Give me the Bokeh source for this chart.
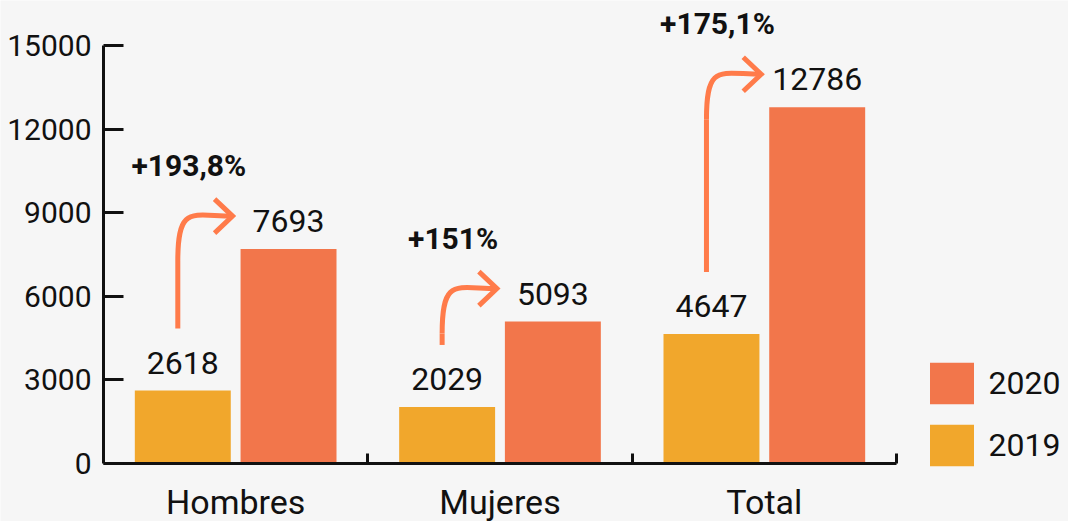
from bokeh.plotting import figure
from bokeh.models import (ColumnDataSource, LabelSet, Range1d, FixedTicker, Legend, LegendItem,
                          LinearAxis)
from bokeh.core.properties import value
from bokeh.embed import file_html
from bokeh.resources import INLINE

# ---- data ----
categories = ["Hombres", "Mujeres", "Total"]
v2019 = [2618, 2029, 4647]
v2020 = [7693, 5093, 12786]
pct_labels = ["+193,8%", "+151%", "+175,1%"]
y_ticks = [0, 3000, 6000, 9000, 12000, 15000]

# ---- style ----
FONT = "Roboto"
C19 = "#f1a72c"
C20 = "#f2764b"
CARROW = "#ff7b4a"
BG = "#f6f6f6"
TXT = "#111111"

W, H = 1068, 521
AX_L, AX_R = 103, 896      # pixel x of category axis ends
AX_T, AX_B = 45, 463       # pixel y of value axis ends
YMAX = 15000
XMAX = len(categories)
px_y = YMAX / (AX_B - AX_T)
px_x = XMAX / (AX_R - AX_L)

p = figure(width=W, height=H,
           x_range=Range1d(-AX_L * px_x, XMAX + (W - AX_R) * px_x),
           y_range=Range1d(-(H - AX_B) * px_y, YMAX + AX_T * px_y),
           x_axis_type=None, y_axis_type=None,
           output_backend="svg", toolbar_location=None, min_border=0)
p.background_fill_color = BG
p.border_fill_color = BG
p.outline_line_color = None
p.grid.visible = False

xc = [i + 0.5 for i in range(len(categories))]
off = 0.2
bw = 0.363
x19 = [x - off for x in xc]
x20 = [x + off for x in xc]

src19 = ColumnDataSource(dict(x=x19, top=v2019, lab=[str(v) for v in v2019]))
src20 = ColumnDataSource(dict(x=x20, top=v2020, lab=[str(v) for v in v2020]))
r20 = p.vbar(x="x", top="top", width=bw, source=src20, fill_color=C20, line_color=None)
r19 = p.vbar(x="x", top="top", width=bw, source=src19, fill_color=C19, line_color=None)

for s in (src19, src20):
    p.add_layout(LabelSet(x="x", y="top", text="lab", source=s, text_align="center",
                          text_baseline="alphabetic", y_offset=17, text_font=value(FONT),
                          text_font_size="32px", text_color=TXT))

# arrows
x0 = [x - 5 * px_x for x in x19]
xt = [x - bw / 2 - 8 * px_x for x in x20]
y0 = [v + 62 * px_y for v in v2019]
yt = [v + 33 * px_y for v in v2020]
yc = [y - 45 * px_y for y in yt]
p.segment(x0=x0, y0=y0, x1=x0, y1=yc, line_color=CARROW, line_width=5)
p.bezier(x0=x0, y0=yc, x1=xt, y1=yt,
         cx0=x0, cy0=[y + 12 * px_y for y in yt],
         cx1=[x + 14 * px_x for x in x0], cy1=yt,
         line_color=CARROW, line_width=5)
xs = [[x - 18 * px_x, x, x - 18 * px_x] for x in xt]
ys = [[y + 17 * px_y, y, y - 17 * px_y] for y in yt]
p.multi_line(xs=xs, ys=ys, line_color=CARROW, line_width=5, line_join="miter")

pct_src = ColumnDataSource(dict(x=[x + 6 * px_x for x in x19], y=[y + 40 * px_y for y in yt], lab=pct_labels))
p.add_layout(LabelSet(x="x", y="y", text="lab", source=pct_src, text_align="center",
                      text_baseline="alphabetic", text_font=value(FONT), text_font_style="bold",
                      text_font_size="30px", text_color=TXT))

# category labels
cat_src = ColumnDataSource(dict(x=xc, y=[0] * len(xc), lab=categories))
p.add_layout(LabelSet(x="x", y="y", text="lab", source=cat_src, text_align="center",
                      text_baseline="alphabetic", y_offset=-50, text_font=value(FONT),
                      text_font_size="34px", text_color=TXT))

# axes
ya = LinearAxis(fixed_location=0, bounds=(0, YMAX), ticker=FixedTicker(ticks=y_ticks))
ya.axis_line_width = 3
ya.axis_line_color = TXT
ya.major_tick_line_width = 3
ya.major_tick_line_color = TXT
ya.major_tick_in = 20
ya.major_tick_out = 0
ya.minor_tick_line_color = None
ya.major_label_standoff = 12
ya.major_label_text_font = FONT
ya.major_label_text_font_size = "30px"
ya.major_label_text_color = TXT
p.add_layout(ya, "left")

xa = LinearAxis(fixed_location=0, bounds=(0, XMAX), ticker=FixedTicker(ticks=[1, 2, 3]))
xa.axis_line_width = 3
xa.axis_line_color = TXT
xa.major_tick_line_width = 3
xa.major_tick_line_color = TXT
xa.major_tick_in = 10
xa.major_tick_out = 0
xa.minor_tick_line_color = None
xa.major_label_overrides = {1: "", 2: "", 3: ""}
xa.major_label_text_font_size = "1px"
p.add_layout(xa, "below")

# legend (area glyphs are drawn with a 10% inset inside glyph_width x glyph_height)
gw, gh = 44 / 0.8, 42 / 0.8
legend = Legend(items=[LegendItem(label="2020", renderers=[r20]), LegendItem(label="2019", renderers=[r19])],
                location=(929 - 0.1 * gw, H - 466 - 0.1 * gh), glyph_width=round(gw), glyph_height=round(gh),
                label_text_font=FONT, label_text_font_size="32px", label_text_color=TXT,
                label_standoff=10, spacing=10, padding=0, margin=0,
                border_line_color=None, background_fill_alpha=0)
p.add_layout(legend, "center")

open("out.html", "w").write(file_html(p, INLINE))
